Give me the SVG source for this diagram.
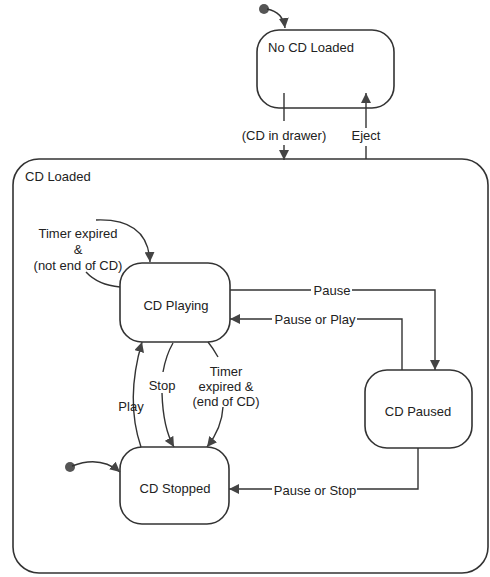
<svg xmlns="http://www.w3.org/2000/svg" width="490" height="577" viewBox="0 0 490 577">
<style>
.st{fill:#fff;stroke:#333;stroke-width:1.6}
.ln{fill:none;stroke:#333;stroke-width:1.4}
text{font-family:"Liberation Sans",Arial,sans-serif;font-size:13px;fill:#222}
.c{text-anchor:middle}
</style>
<defs>
<marker id="ah" viewBox="0 0 10 10" refX="10" refY="5" markerWidth="10" markerHeight="10" markerUnits="userSpaceOnUse" orient="auto">
<path d="M0,0 L10,5 L0,10 z" fill="#444"/>
</marker>
</defs>
<rect width="490" height="577" fill="#fff"/>
<g id="cdloaded">
<rect class="st" x="13" y="159" width="475" height="414" rx="26"/>
<text x="25" y="181">CD Loaded</text>
</g>
<g id="nocd">
<rect class="st" x="257" y="30" width="137" height="78" rx="22"/>
<text x="268" y="52">No CD Loaded</text>
</g>
<g id="init1"><circle cx="264" cy="9" r="5" fill="#555"/></g>
<g id="init2"><circle cx="70" cy="467" r="5" fill="#555"/></g>
<g id="playing">
<rect class="st" x="120" y="263" width="110" height="79" rx="22"/>
<text class="c" x="176" y="310">CD Playing</text>
</g>
<g id="paused">
<rect class="st" x="365" y="370" width="107" height="78" rx="22"/>
<text class="c" x="418" y="416">CD Paused</text>
</g>
<g id="stopped">
<rect class="st" x="120" y="447" width="109" height="77" rx="22"/>
<text class="c" x="175" y="493">CD Stopped</text>
</g>
<g id="connectors">
<path class="ln" d="M267,9 Q283,12 285,28" marker-end="url(#ah)"/>
<path class="ln" d="M284,93 L284,121"/>
<path class="ln" d="M284,145 L284,160" marker-end="url(#ah)"/>
<text class="c" x="284" y="140">(CD in drawer)</text>
<path class="ln" d="M366,159 L366,146"/>
<path class="ln" d="M366,128 L366,93" marker-end="url(#ah)"/>
<text class="c" x="366" y="140">Eject</text>
<path class="ln" d="M120,287 Q98,285 86,272"/>
<path class="ln" d="M96,220 Q148,218 150,262" marker-end="url(#ah)"/>
<text class="c" x="78" y="238">Timer expired</text>
<text class="c" x="78" y="254">&amp;</text>
<text class="c" x="78" y="270">(not end of CD)</text>
<path class="ln" d="M230,290 L311,290"/>
<path class="ln" d="M352,290 L435,290 L435,370" marker-end="url(#ah)"/>
<text class="c" x="332" y="295">Pause</text>
<path class="ln" d="M402,370 L402,319 L357,319"/>
<path class="ln" d="M272,319 L230,319" marker-end="url(#ah)"/>
<text class="c" x="315" y="324">Pause or Play</text>
<path class="ln" d="M418,448 L418,489 L357,489"/>
<path class="ln" d="M272,489 L229,489" marker-end="url(#ah)"/>
<text class="c" x="315" y="495">Pause or Stop</text>
<path class="ln" d="M141,447 Q125,400 142,342" marker-end="url(#ah)"/>
<text class="c" x="131" y="411">Play</text>
<path class="ln" d="M173,343 Q166,355 163,372"/>
<path class="ln" d="M162,393 Q163,428 174,447" marker-end="url(#ah)"/>
<text class="c" x="162" y="390">Stop</text>
<path class="ln" d="M208,342 Q213,348 218,357"/>
<path class="ln" d="M223,407 Q222,428 207,447" marker-end="url(#ah)"/>
<text class="c" x="226" y="376">Timer</text>
<text class="c" x="226" y="391">expired &amp;</text>
<text class="c" x="226" y="406">(end of CD)</text>
<path class="ln" d="M72,466 Q100,455 120,472" marker-end="url(#ah)"/>
</g>
</svg>
